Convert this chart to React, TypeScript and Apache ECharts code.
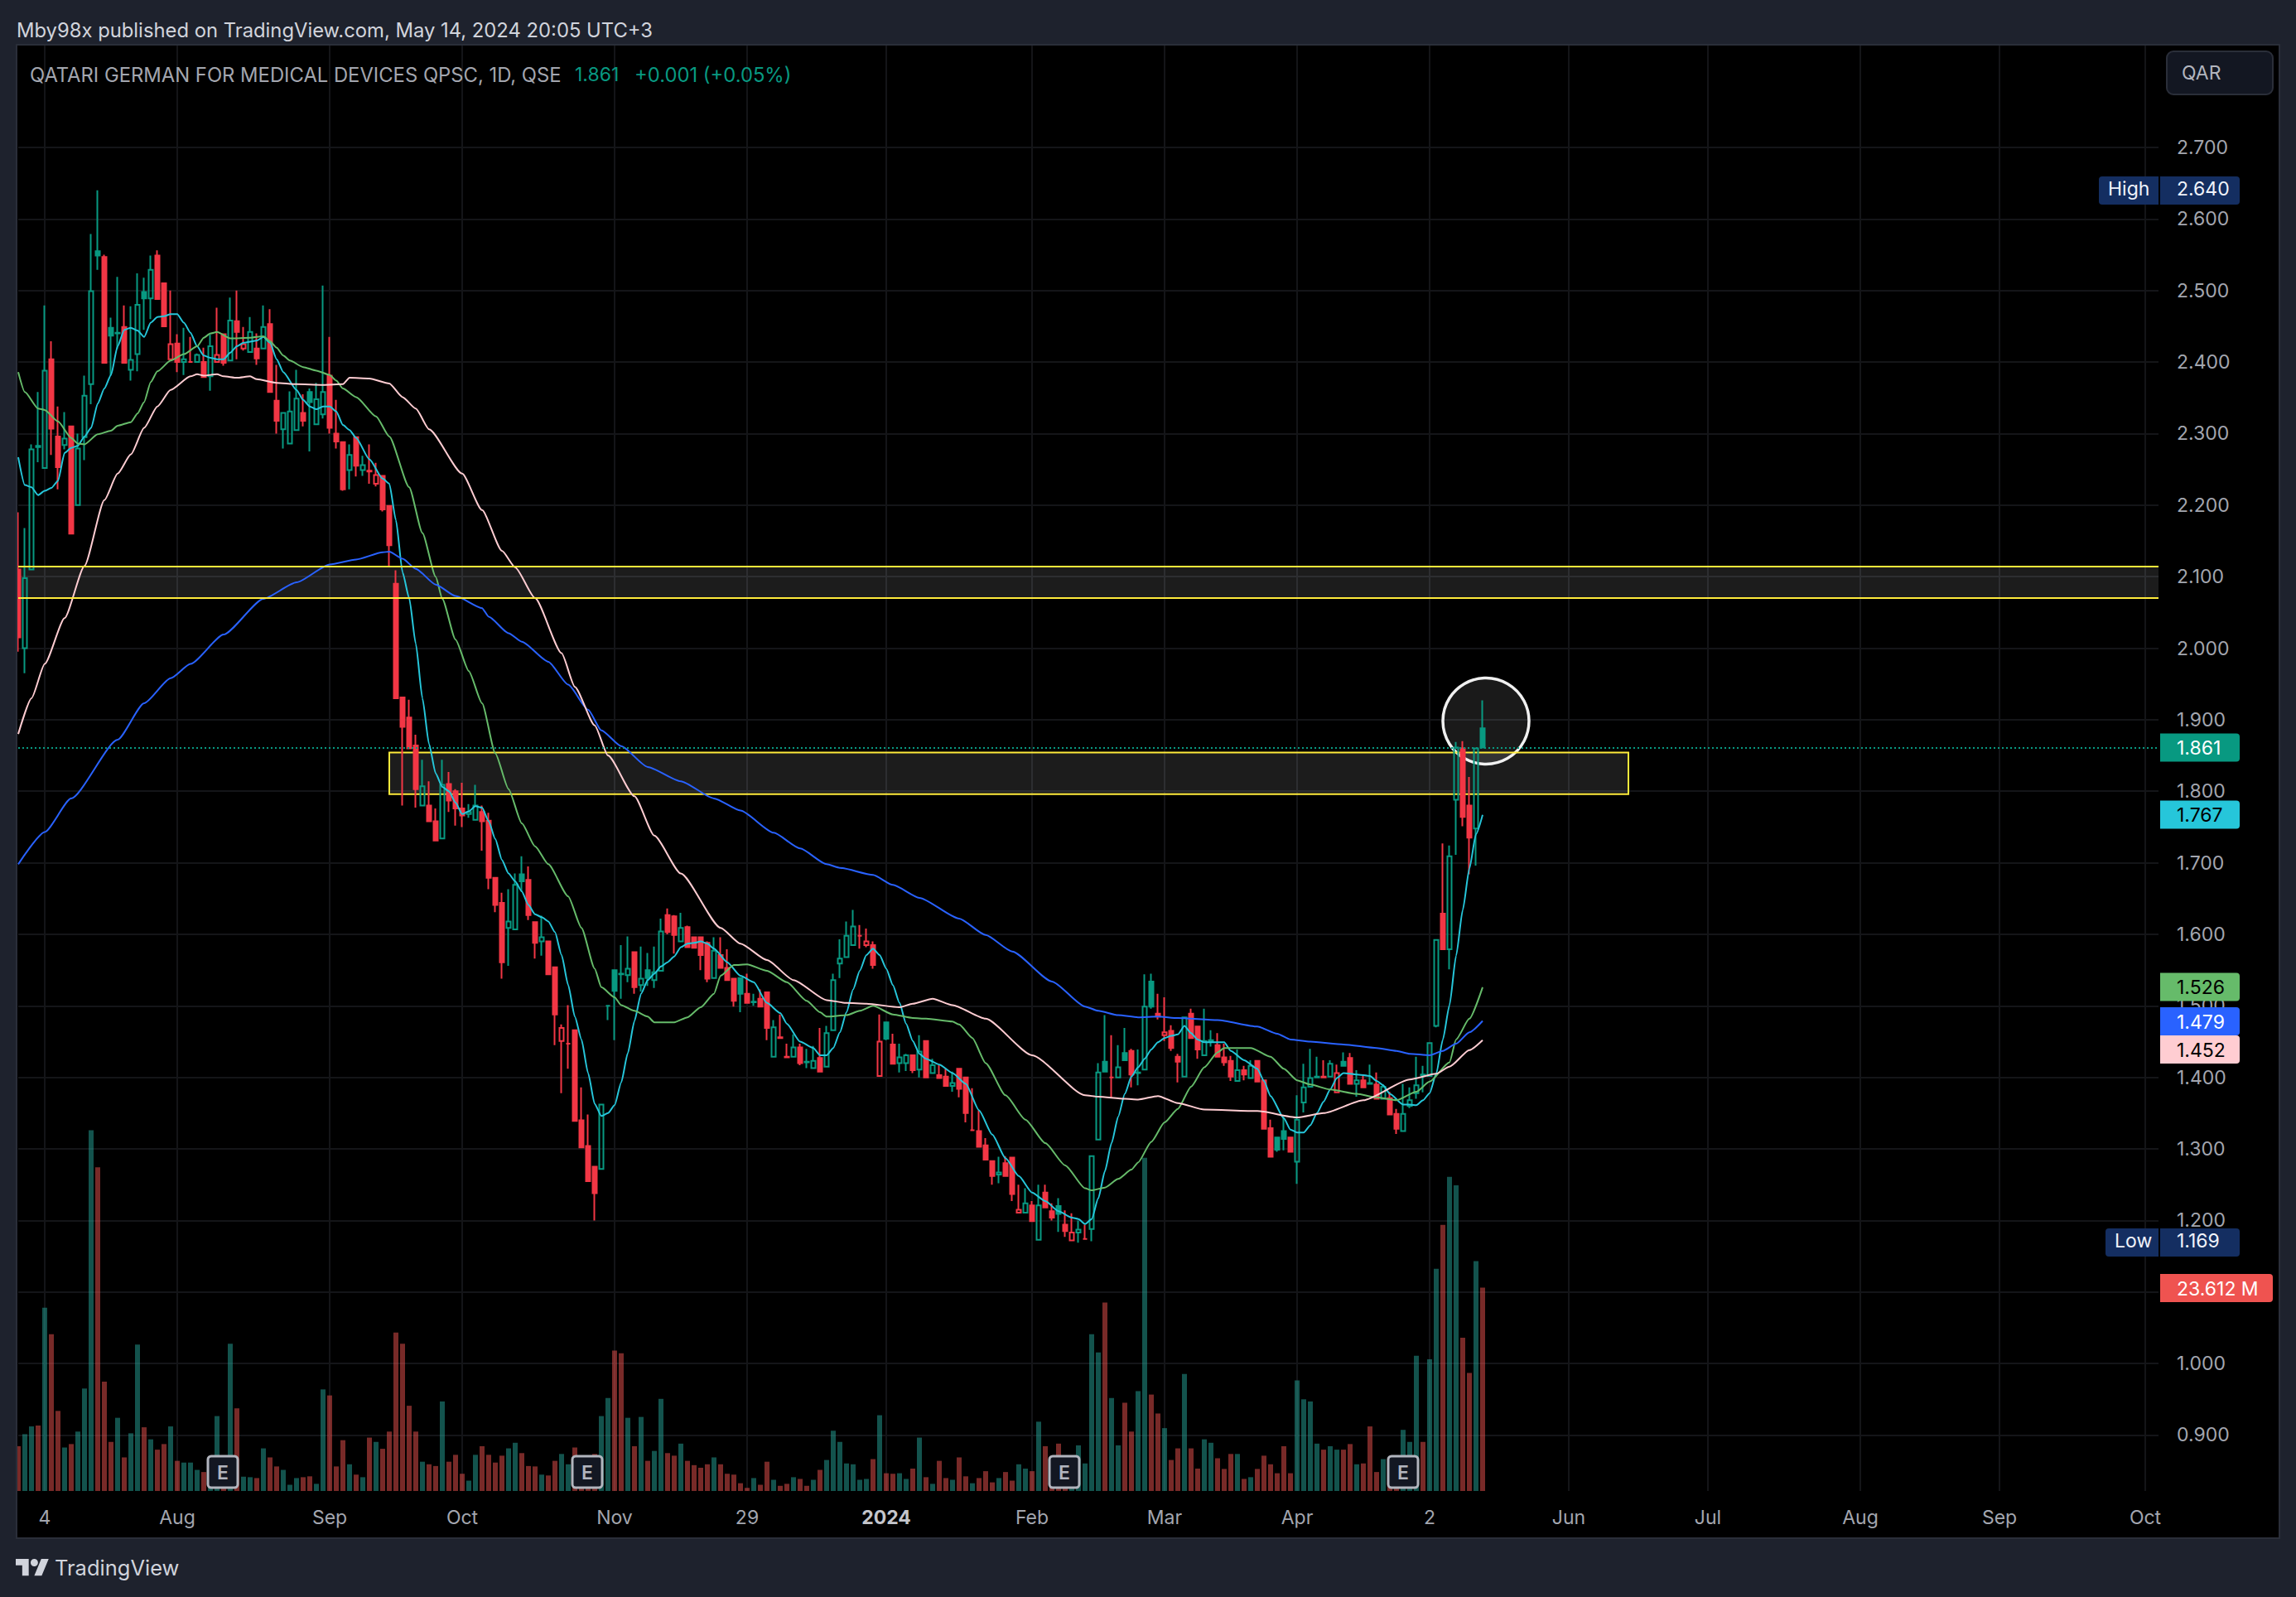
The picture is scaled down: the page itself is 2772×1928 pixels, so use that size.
import React, { useEffect, useRef } from "react";
import * as echarts from "echarts";

const opens = [
  2.11,2.0,2.11,2.283,2.252,2.404,2.296,2.284,2.31,2.2,
  2.295,2.369,2.555,2.547,2.448,2.44,2.449,2.389,2.411,2.498,
  2.489,2.549,2.51,2.404,2.426,2.4,2.4,2.4,2.4,2.38,
  2.4,2.439,2.402,2.457,2.419,2.414,2.419,2.419,2.453,2.346,
  2.306,2.286,2.305,2.329,2.358,2.313,2.327,2.381,2.3,2.288,
  2.249,2.295,2.249,2.248,2.23,2.241,2.199,2.09,1.931,1.903,
  1.864,1.78,1.78,1.758,1.734,1.81,1.8,1.776,1.768,1.76,
  1.771,1.759,1.679,1.644,1.609,1.607,1.684,1.676,1.617,1.59,
  1.59,1.554,1.451,1.447,1.466,1.34,1.304,1.275,1.272,1.5,
  1.55,1.545,1.543,1.575,1.529,1.55,1.536,1.549,1.627,1.625,
  1.59,1.61,1.596,1.596,1.588,1.539,1.571,1.553,1.538,1.539,
  1.517,1.505,1.51,1.519,1.429,1.456,1.429,1.429,1.442,1.422,
  1.413,1.427,1.415,1.466,1.559,1.568,1.585,1.598,1.585,1.585,
  1.402,1.477,1.446,1.42,1.42,1.431,1.411,1.451,1.406,1.403,
  1.401,1.388,1.412,1.4,1.326,1.325,1.305,1.283,1.264,1.28,
  1.288,1.211,1.211,1.221,1.173,1.239,1.213,1.22,1.194,1.172,
  1.183,1.174,1.188,1.313,1.422,1.4,1.4,1.434,1.437,1.406,
  1.411,1.534,1.489,1.459,1.465,1.429,1.401,1.489,1.471,1.431,
  1.45,1.445,1.428,1.423,1.395,1.41,1.399,1.423,1.396,1.329,
  1.316,1.325,1.316,1.282,1.365,1.387,1.4,1.401,1.401,1.379,
  1.422,1.427,1.391,1.396,1.392,1.39,1.37,1.371,1.349,1.325,
  1.36,1.378,1.404,1.402,1.472,1.629,1.579,1.788,1.86,1.78,
  1.748,1.888,
];
const closes = [
  2.015,2.098,2.278,2.281,2.388,2.307,2.253,2.293,2.16,2.279,
  2.353,2.499,2.549,2.399,2.437,2.441,2.399,2.403,2.48,2.489,
  2.529,2.488,2.45,2.425,2.4,2.404,2.4,2.41,2.379,2.422,
  2.41,2.399,2.458,2.442,2.425,2.442,2.405,2.449,2.358,2.318,
  2.329,2.331,2.349,2.318,2.344,2.348,2.358,2.308,2.289,2.222,
  2.27,2.255,2.256,2.247,2.242,2.194,2.144,1.93,1.89,1.86,
  1.803,1.807,1.758,1.731,1.809,1.787,1.776,1.766,1.771,1.78,
  1.758,1.679,1.641,1.561,1.618,1.669,1.674,1.627,1.588,1.596,
  1.544,1.488,1.469,1.447,1.339,1.302,1.255,1.238,1.362,1.5,
  1.521,1.544,1.552,1.526,1.538,1.539,1.547,1.604,1.603,1.599,
  1.609,1.582,1.581,1.571,1.538,1.577,1.553,1.536,1.507,1.517,
  1.504,1.506,1.499,1.469,1.47,1.455,1.428,1.442,1.42,1.421,
  1.423,1.408,1.462,1.536,1.566,1.598,1.611,1.598,1.59,1.557,
  1.45,1.454,1.419,1.428,1.431,1.41,1.436,1.4,1.417,1.399,
  1.388,1.392,1.384,1.35,1.326,1.303,1.285,1.262,1.267,1.262,
  1.237,1.215,1.224,1.199,1.221,1.218,1.204,1.209,1.185,1.183,
  1.187,1.174,1.29,1.407,1.408,1.4,1.414,1.424,1.404,1.407,
  1.499,1.499,1.485,1.463,1.441,1.422,1.484,1.455,1.439,1.451,
  1.452,1.429,1.421,1.401,1.41,1.404,1.416,1.394,1.328,1.289,
  1.299,1.314,1.296,1.341,1.386,1.399,1.401,1.4,1.419,1.406,
  1.416,1.391,1.396,1.386,1.391,1.37,1.387,1.348,1.328,1.349,
  1.368,1.389,1.403,1.448,1.592,1.579,1.709,1.861,1.764,1.735,
  1.86,1.861,
];
const lows = [
  1.995,1.965,2.11,2.26,2.252,2.27,2.222,2.278,2.16,2.2,
  2.263,2.341,2.529,2.399,2.381,2.418,2.399,2.374,2.387,2.445,
  2.46,2.488,2.45,2.404,2.386,2.382,2.4,2.4,2.379,2.36,
  2.4,2.395,2.402,2.404,2.416,2.414,2.396,2.419,2.358,2.3,
  2.279,2.286,2.305,2.31,2.275,2.313,2.321,2.3,2.279,2.22,
  2.222,2.24,2.241,2.23,2.226,2.191,2.115,1.93,1.78,1.86,
  1.777,1.78,1.758,1.731,1.734,1.771,1.752,1.75,1.763,1.76,
  1.717,1.663,1.631,1.538,1.556,1.607,1.66,1.62,1.566,1.57,
  1.544,1.445,1.378,1.412,1.339,1.302,1.255,1.2,1.272,1.48,
  1.452,1.51,1.533,1.517,1.52,1.528,1.525,1.549,1.6,1.573,
  1.59,1.582,1.581,1.55,1.533,1.539,1.553,1.536,1.499,1.491,
  1.504,1.5,1.499,1.452,1.429,1.455,1.428,1.429,1.417,1.413,
  1.413,1.408,1.415,1.466,1.539,1.568,1.585,1.58,1.582,1.552,
  1.402,1.452,1.419,1.407,1.409,1.406,1.4,1.4,1.406,1.399,
  1.388,1.38,1.372,1.337,1.326,1.303,1.285,1.25,1.252,1.262,
  1.227,1.211,1.211,1.199,1.173,1.218,1.2,1.184,1.177,1.172,
  1.169,1.174,1.171,1.313,1.408,1.372,1.4,1.424,1.386,1.389,
  1.411,1.496,1.481,1.451,1.437,1.393,1.401,1.455,1.426,1.431,
  1.443,1.429,1.416,1.395,1.395,1.396,1.399,1.394,1.328,1.289,
  1.296,1.298,1.296,1.251,1.351,1.387,1.4,1.399,1.401,1.379,
  1.416,1.391,1.373,1.386,1.391,1.37,1.37,1.348,1.321,1.325,
  1.357,1.37,1.379,1.402,1.47,1.579,1.551,1.711,1.751,1.684,
  1.696,1.861,
];
const highs = [
  2.19,2.168,2.285,2.358,2.479,2.429,2.338,2.33,2.31,2.3,
  2.381,2.579,2.64,2.55,2.462,2.519,2.479,2.478,2.524,2.518,
  2.549,2.556,2.51,2.5,2.439,2.448,2.435,2.412,2.42,2.439,
  2.476,2.439,2.49,2.5,2.449,2.463,2.44,2.479,2.474,2.396,
  2.329,2.359,2.389,2.355,2.363,2.371,2.507,2.435,2.347,2.288,
  2.285,2.296,2.269,2.285,2.259,2.241,2.199,2.109,1.931,1.928,
  1.879,1.844,1.814,1.776,1.844,1.827,1.803,1.812,1.782,1.809,
  1.78,1.77,1.679,1.658,1.663,1.685,1.709,1.695,1.617,1.626,
  1.59,1.554,1.474,1.501,1.466,1.386,1.348,1.276,1.362,1.5,
  1.55,1.585,1.597,1.575,1.583,1.574,1.583,1.622,1.636,1.627,
  1.63,1.612,1.596,1.596,1.59,1.596,1.596,1.579,1.538,1.539,
  1.545,1.517,1.523,1.519,1.48,1.488,1.447,1.46,1.447,1.44,
  1.444,1.469,1.472,1.545,1.593,1.618,1.634,1.613,1.608,1.59,
  1.488,1.477,1.461,1.447,1.433,1.431,1.459,1.451,1.426,1.417,
  1.412,1.408,1.412,1.4,1.385,1.354,1.315,1.283,1.289,1.29,
  1.288,1.25,1.245,1.227,1.25,1.25,1.224,1.231,1.214,1.21,
  1.2,1.194,1.29,1.42,1.487,1.459,1.445,1.469,1.44,1.439,
  1.544,1.545,1.517,1.512,1.473,1.433,1.484,1.496,1.471,1.496,
  1.466,1.462,1.447,1.43,1.439,1.416,1.424,1.423,1.396,1.341,
  1.316,1.345,1.316,1.375,1.419,1.44,1.429,1.424,1.424,1.418,
  1.435,1.434,1.41,1.402,1.418,1.407,1.39,1.38,1.356,1.391,
  1.386,1.429,1.416,1.448,1.592,1.727,1.724,1.869,1.87,1.82,
  1.86,1.927,
];
const volumes = [
  5.2,6.6,7.5,7.6,21.3,18.2,9.3,5.05,5.45,6.9,
  11.9,41.9,37.6,12.7,5.7,8.5,3.9,6.7,17.0,7.4,
  6.0,4.8,5.45,7.5,3.5,3.3,3.3,2.45,2.2,1.0,
  8.7,1.5,17.1,9.6,1.66,1.6,1.5,4.95,3.9,2.85,
  2.45,0.72,1.5,1.6,1.7,0.83,11.8,11.1,2.85,5.9,
  3.1,1.9,1.6,6.2,5.7,4.9,6.9,18.4,17.1,9.9,
  6.9,3.4,3.1,2.9,10.4,3.4,4.2,2.0,1.2,4.2,
  5.2,4.2,3.3,4.1,4.95,5.6,4.4,2.9,2.85,1.9,
  1.8,3.5,4.3,3.1,5.05,3.5,1.5,4.3,8.7,10.8,
  16.3,16.0,8.5,5.2,8.6,3.5,4.65,10.7,4.4,4.1,
  5.5,3.5,3.0,2.7,3.1,3.9,3.1,2.0,1.9,0.9,
  0.36,1.5,0.72,3.4,1.3,0.6,0.83,1.6,1.4,0.6,
  1.3,2.45,3.6,7.0,5.7,3.2,3.1,1.3,1.4,3.7,
  8.8,2.06,2.0,2.06,1.4,2.6,6.2,1.6,0.83,3.5,
  1.5,1.3,3.9,1.7,0.9,1.5,2.3,1.0,1.5,2.2,
  1.2,3.1,2.6,2.3,8.05,5.2,1.5,5.5,1.5,1.5,
  5.3,3.2,18.2,16.1,21.9,10.8,5.3,10.25,6.9,11.6,
  38.7,11.2,9.0,7.3,3.6,4.95,13.6,4.95,2.6,6.0,
  5.6,3.8,2.56,4.3,4.3,1.4,1.6,2.56,4.1,3.1,
  2.06,5.2,2.06,12.85,10.65,10.4,5.5,4.8,5.2,4.8,
  4.8,5.45,3.1,3.2,7.5,2.2,3.7,1.5,1.5,7.1,
  5.7,15.7,5.7,15.3,25.8,30.9,36.5,35.5,17.8,13.7,
  26.7,23.612,
];

const maCyan = [
  [0,2.267],[1,2.228],[2,2.225],[3,2.214],[4,2.22],[5,2.224],[6,2.234],[7,2.273],[8,2.28],[9,2.283],
  [10,2.296],[11,2.308],[12,2.342],[13,2.363],[14,2.382],[15,2.422],[16,2.445],[17,2.448],[18,2.444],[19,2.435],
  [20,2.455],[21,2.463],[22,2.464],[23,2.467],[24,2.467],[25,2.455],[26,2.441],[27,2.422],[28,2.409],[29,2.406],
  [30,2.404],[31,2.404],[32,2.413],[33,2.422],[34,2.427],[36,2.43],[37,2.435],[38,2.427],[39,2.404],[40,2.386],
  [42,2.361],[43,2.347],[44,2.338],[45,2.334],[46,2.338],[47,2.338],[48,2.331],[49,2.312],[50,2.305],[51,2.294],
  [53,2.264],[55,2.237],[56,2.23],[57,2.179],[58,2.106],[59,2.07],[60,2.006],[61,1.93],[62,1.866],[63,1.825],
  [64,1.806],[65,1.8],[66,1.784],[67,1.768],[68,1.772],[69,1.779],[70,1.777],[71,1.758],[72,1.733],[73,1.704],
  [74,1.685],[75,1.674],[76,1.66],[77,1.641],[78,1.628],[79,1.624],[80,1.618],[81,1.603],[82,1.571],[83,1.529],
  [84,1.485],[85,1.453],[86,1.406],[87,1.363],[88,1.346],[89,1.35],[90,1.361],[91,1.393],[92,1.434],[93,1.479],
  [94,1.517],[95,1.536],[96,1.545],[97,1.555],[98,1.561],[99,1.569],[100,1.582],[101,1.587],[102,1.588],[103,1.59],
  [104,1.587],[105,1.58],[107,1.561],[109,1.542],[111,1.533],[113,1.504],[115,1.49],[116,1.475],[118,1.45],[120,1.441],
  [121,1.431],[122,1.431],[123,1.441],[124,1.463],[125,1.491],[126,1.523],[127,1.549],[128,1.571],[129,1.58],[130,1.571],
  [131,1.552],[132,1.529],[133,1.504],[134,1.475],[135,1.451],[136,1.433],[137,1.426],[139,1.418],[141,1.406],[143,1.391],
  [145,1.354],[147,1.32],[149,1.287],[151,1.262],[153,1.239],[155,1.227],[157,1.213],[159,1.204],[160,1.202],[161,1.195],
  [162,1.202],[163,1.231],[164,1.269],[165,1.308],[166,1.345],[167,1.377],[168,1.401],[169,1.414],[170,1.426],[171,1.439],
  [172,1.449],[173,1.455],[174,1.458],[175,1.46],[176,1.472],[177,1.462],[178,1.453],[179,1.449],[182,1.449],[183,1.437],
  [185,1.424],[187,1.412],[188,1.395],[189,1.374],[191,1.343],[192,1.327],[193,1.323],[194,1.323],[195,1.333],[196,1.35],
  [197,1.366],[198,1.383],[199,1.399],[200,1.406],[202,1.404],[204,1.402],[205,1.395],[206,1.389],[207,1.377],[209,1.362],
  [210,1.362],[211,1.361],[212,1.368],[213,1.378],[214,1.405],[215,1.453],[216,1.501],[217,1.57],[218,1.634],[219,1.692],
  [220,1.74],[221,1.767],
];
const maGreen = [
  [0,2.386],[1,2.358],[3,2.335],[4,2.333],[6,2.317],[8,2.294],[9,2.286],[10,2.285],[12,2.299],[14,2.304],
  [15,2.311],[17,2.316],[18,2.328],[19,2.344],[20,2.372],[21,2.387],[23,2.402],[25,2.411],[27,2.422],[28,2.434],
  [29,2.44],[30,2.442],[32,2.433],[35,2.434],[37,2.436],[38,2.429],[39,2.42],[40,2.409],[41,2.402],[43,2.393],
  [45,2.388],[47,2.382],[48,2.374],[49,2.363],[51,2.351],[54,2.324],[56,2.296],[59,2.225],[61,2.161],[63,2.1],
  [64,2.069],[66,2.012],[68,1.968],[70,1.923],[72,1.853],[74,1.803],[76,1.755],[78,1.723],[80,1.698],[83,1.653],
  [85,1.609],[87,1.552],[88,1.526],[90,1.512],[91,1.501],[93,1.493],[95,1.485],[96,1.477],[99,1.477],[101,1.484],
  [103,1.498],[105,1.517],[106,1.542],[108,1.557],[110,1.558],[113,1.549],[116,1.533],[119,1.507],[121,1.491],[122,1.485],
  [125,1.487],[127,1.493],[129,1.5],[132,1.488],[135,1.483],[137,1.482],[141,1.478],[142,1.474],[144,1.455],[146,1.42],
  [149,1.375],[152,1.341],[155,1.308],[158,1.277],[161,1.245],[162,1.242],[164,1.246],[166,1.258],[168,1.271],[169,1.281],
  [171,1.31],[173,1.337],[175,1.356],[177,1.387],[179,1.414],[181,1.435],[182,1.441],[186,1.441],[189,1.429],[191,1.412],
  [193,1.396],[195,1.39],[198,1.383],[202,1.377],[205,1.372],[208,1.368],[211,1.38],[213,1.394],[216,1.421],[217,1.453],
  [219,1.482],[221,1.526],
];
const maBlue = [
  [0,1.698],[4,1.743],[8,1.79],[15,1.872],[19,1.923],[23,1.958],[26,1.978],[31,2.019],[37,2.069],[42,2.092],
  [47,2.117],[51,2.124],[55,2.134],[56,2.135],[58,2.125],[60,2.111],[63,2.089],[66,2.073],[70,2.056],[71,2.044],
  [74,2.021],[76,2.009],[80,1.981],[83,1.949],[86,1.914],[88,1.885],[91,1.863],[95,1.834],[100,1.814],[105,1.79],
  [109,1.773],[114,1.742],[118,1.72],[122,1.698],[124,1.693],[129,1.683],[132,1.669],[136,1.651],[142,1.622],[146,1.599],
  [150,1.576],[156,1.534],[161,1.499],[163,1.493],[166,1.487],[169,1.484],[172,1.485],[175,1.483],[181,1.48],[187,1.471],
  [190,1.461],[192,1.453],[195,1.45],[200,1.446],[205,1.441],[208,1.437],[210,1.433],[213,1.431],[215,1.437],[217,1.447],
  [219,1.463],[221,1.479],
];
const maPink = [
  [0,1.88],[2,1.93],[4,1.978],[7,2.042],[10,2.115],[13,2.207],[15,2.244],[17,2.271],[19,2.308],[21,2.338],
  [23,2.361],[26,2.38],[27,2.383],[28,2.381],[30,2.383],[31,2.38],[33,2.378],[35,2.38],[36,2.376],[39,2.371],
  [42,2.369],[46,2.368],[49,2.369],[50,2.378],[53,2.377],[56,2.37],[58,2.351],[60,2.335],[62,2.306],[67,2.244],
  [70,2.193],[73,2.136],[75,2.113],[78,2.07],[82,1.993],[84,1.946],[87,1.892],[89,1.85],[93,1.793],[96,1.738],
  [100,1.685],[106,1.609],[109,1.587],[113,1.564],[117,1.536],[122,1.508],[125,1.504],[128,1.503],[133,1.498],[135,1.503],
  [138,1.51],[141,1.501],[146,1.482],[153,1.431],[161,1.375],[163,1.373],[167,1.37],[169,1.369],[172,1.374],[175,1.364],
  [179,1.355],[187,1.353],[193,1.344],[197,1.35],[203,1.368],[210,1.397],[214,1.405],[216,1.415],[219,1.438],[221,1.452],
];

const priceTicks = [0.9,1.0,1.1,1.2,1.3,1.4,1.5,1.6,1.7,1.8,1.9,2.0,2.1,2.2,2.3,2.4,2.5,2.6,2.7];
const dateLabels: Record<number, string> = {
  4: "4", 24: "Aug", 47: "Sep", 67: "Oct", 90: "Nov", 110: "29", 131: "2024", 153: "Feb",
  173: "Mar", 193: "Apr", 213: "2", 234: "Jun", 255: "Jul", 278: "Aug", 299: "Sep", 321: "Oct",
};
const slotCount = 324;
const categories = Array.from({ length: slotCount }, (_, i) => dateLabels[i] ?? "");
const upperZone = [2.114, 2.07];
const lowerZone = [1.854, 1.796];
const lastPrice = 1.861;

const GREEN = "#089981";
const RED = "#f23645";
const FONT = "Inter";

const tvPath =
  "M14 22H7V11H0V4h14v18zM28 22h-8l7.5-18h8L28 22zM24 8a4 4 0 1 1-8 0 4 4 0 0 1 8 0z";
echarts.graphic.registerShape("tvlogo", echarts.graphic.extendPath(tvPath, {}) as any);

function txt(text: string, x: number, y: number, fill: string, size = 23, extra: any = {}) {
  return {
    type: "text",
    z: 110,
    style: { text, x, y, fill, font: `${extra.weight ?? 400} ${size}px ${FONT}`, textAlign: extra.align ?? "left", textVerticalAlign: "middle" },
  };
}
function tag(y: number, text: string, bg: string, fg: string, w = 96) {
  return [
    { type: "rect", z: 105, shape: { x: 2608, y: y - 17, width: w, height: 34, r: [0, 4, 4, 0] }, style: { fill: bg } },
    txt(text, 2628, y + 0.5, fg),
  ];
}
function sideTag(yTop: number, xLeft: number, label: string, value: string) {
  return [
    { type: "rect", z: 105, shape: { x: xLeft, y: yTop, width: 2704 - xLeft, height: 34, r: 4 }, style: { fill: "#142e61" } },
    { type: "rect", z: 106, shape: { x: 2606, y: yTop, width: 2, height: 34 }, style: { fill: "#000000" } },
    txt(label, xLeft + 11, yTop + 15, "#f0f3fa"),
    txt(value, 2628, yTop + 15, "#f0f3fa"),
  ];
}
function badge(cx: number) {
  return [
    { type: "rect", z: 105, shape: { x: cx - 18, y: 1758, width: 36, height: 38, r: 4 }, style: { fill: "#131722", stroke: "#b2b5be", lineWidth: 3 } },
    txt("E", cx, 1778, "#b2b5be", 23, { align: "center", weight: 600 }),
  ];
}

export default function App() {
  const ref = useRef<HTMLDivElement>(null);
  useEffect(() => {
    const chart = echarts.init(ref.current!, undefined, { renderer: "svg" });
    const candleData = opens.map((o, i) => {
      const c = closes[i];
      const col = i === 0 || c < closes[i - 1] ? RED : GREEN;
      const fill = c > o ? "rgba(0,0,0,0)" : col;
      return {
        value: [o, c, lows[i], highs[i]],
        itemStyle: {
          color: fill,
          color0: fill,
          borderColor: col,
          borderColor0: col,
          borderColorDoji: col,
          borderWidth: 2,
        },
      };
    });
    const volumeData = volumes.map((v, i) => ({
      value: v,
      itemStyle: { color: closes[i] >= opens[i] ? "rgba(38,166,154,0.5)" : "rgba(239,83,80,0.5)" },
    }));
    const maLine = (name: string, data: number[][], color: string) => ({
      name,
      type: "line",
      data,
      showSymbol: false,
      symbol: "none",
      smooth: 0.2,
      smoothMonotone: "x",
      z: 4,
      silent: true,
      lineStyle: { color, width: 2 },
    });
    const graphics: any[] = [
      { type: "rect", z: -10, shape: { x: 20, y: 54, width: 2732, height: 1803 }, style: { fill: "#000000" } },
      { type: "circle", z: 1, shape: { cx: 1794, cy: 870.5, r: 52 }, style: { fill: "rgba(255,255,255,0.1)", stroke: "#f0f0f0", lineWidth: 3.5 } },
      { type: "rect", z: 90, shape: { x: 0, y: 0, width: 20, height: 1928 }, style: { fill: "#1e222d" } },
      { type: "rect", z: 92, shape: { x: 20, y: 54, width: 2732, height: 1803 }, style: { fill: "rgba(0,0,0,0)", stroke: "#2a2e39", lineWidth: 2 } },
      txt("Mby98x published on TradingView.com, May 14, 2024 20:05 UTC+3", 20, 36, "#d1d4dc", 23.8),
      txt("QATARI GERMAN FOR MEDICAL DEVICES QPSC, 1D, QSE", 36, 90, "#a3a6af", 23.8),
      txt("1.861", 694, 90, GREEN),
      txt("+0.001 (+0.05%)", 766, 90, GREEN, 23.8),
      { type: "rect", z: 105, shape: { x: 2616, y: 62, width: 128, height: 52, r: 8 }, style: { fill: "#131722", stroke: "#2a2e39", lineWidth: 2 } },
      txt("QAR", 2634, 88, "#b2b5be"),
      ...sideTag(213, 2534, "High", "2.640"),
      ...sideTag(1483, 2542, "Low", "1.169"),
      ...tag(902.5, "1.861", GREEN, "#ffffff"),
      ...tag(983.5, "1.767", "#26c6da", "#000000"),
      ...tag(1191.5, "1.526", "#66bb6a", "#000000"),
      ...tag(1233, "1.479", "#2962ff", "#ffffff"),
      ...tag(1267, "1.452", "#ffcdd2", "#000000"),
      ...tag(1555, "23.612 M", "#ef5350", "#ffffff", 136),
      ...badge(269),
      ...badge(709),
      ...badge(1285),
      ...badge(1694),
      { type: "tvlogo", z: 110, x: 19, y: 1877.5, scaleX: 1.12, scaleY: 1.12, style: { fill: "#d1d4dc" } },
      txt("TradingView", 66, 1892, "#d1d4dc", 25.5),
    ];
    chart.setOption({
      animation: false,
      backgroundColor: "#1e222d",
      textStyle: { fontFamily: FONT },
      grid: { left: 22, top: 54, width: 8 * (slotCount - 1), height: 1746, containLabel: false },
      xAxis: {
        type: "category",
        data: categories,
        boundaryGap: false,
        axisLine: { show: false },
        axisTick: { show: false },
        splitLine: { show: true, interval: (_: number, v: string) => v !== "", lineStyle: { color: "#141518", width: 2 } },
        axisLabel: {
          interval: (_: number, v: string) => v !== "",
          color: "#a3a6af",
          fontFamily: FONT,
          fontSize: 23,
          margin: 20,
          formatter: (v: string) => (v === "2024" ? "{b|2024}" : v),
          rich: { b: { fontFamily: FONT, fontSize: 23, fontWeight: 700, color: "#c4c6cc" } },
        },
      },
      yAxis: [
        {
          type: "value",
          position: "right",
          min: 0.8218,
          max: 2.8436,
          axisLine: { show: false },
          axisTick: { show: false, customValues: priceTicks },
          splitLine: { show: true, lineStyle: { color: "#141518", width: 2 } },
          axisLabel: {
            customValues: priceTicks,
            color: "#a3a6af",
            fontFamily: FONT,
            fontSize: 23,
            margin: 22,
            formatter: (v: number) => v.toFixed(3),
          },
        },
        { type: "value", min: 0, max: 168, show: false, splitLine: { show: false } },
      ],
      graphic: { elements: graphics },
      series: [
        {
          name: "Volume",
          type: "bar",
          yAxisIndex: 1,
          data: volumeData,
          barWidth: 6,
          clip: false,
          silent: true,
          z: 1,
        },
        {
          name: "Price",
          type: "candlestick",
          data: candleData,
          barWidth: 6,
          clip: false,
          silent: true,
          z: 3,
          markArea: {
            silent: true,
            label: { show: false },
            itemStyle: { color: "rgba(255,255,255,0.11)", borderWidth: 0 },
            data: [
              [{ xAxis: 0, yAxis: upperZone[0] }, { xAxis: slotCount - 1, yAxis: upperZone[1] }],
              [{ xAxis: 56, yAxis: lowerZone[0], itemStyle: { borderColor: "#ffeb3b", borderWidth: 2 } }, { xAxis: 243, yAxis: lowerZone[1] }],
            ],
          },
          markLine: {
            silent: true,
            symbol: "none",
            precision: 4,
            label: { show: false },
            data: [
              { yAxis: lastPrice, lineStyle: { color: GREEN, type: [2, 3], width: 2 } },
              { yAxis: upperZone[0], lineStyle: { color: "#ffeb3b", type: "solid", width: 2 } },
              { yAxis: upperZone[1], lineStyle: { color: "#ffeb3b", type: "solid", width: 2 } },
            ],
          },
        },
        maLine("MA cyan", maCyan, "#26c6da"),
        maLine("MA green", maGreen, "#66bb6a"),
        maLine("MA blue", maBlue, "#2962ff"),
        maLine("MA pink", maPink, "#ffcdd2"),
      ],
    });
    return () => chart.dispose();
  }, []);
  return <div ref={ref} style={{ position: "absolute", left: 0, top: 0, width: 2772, height: 1928 }} />;
}
